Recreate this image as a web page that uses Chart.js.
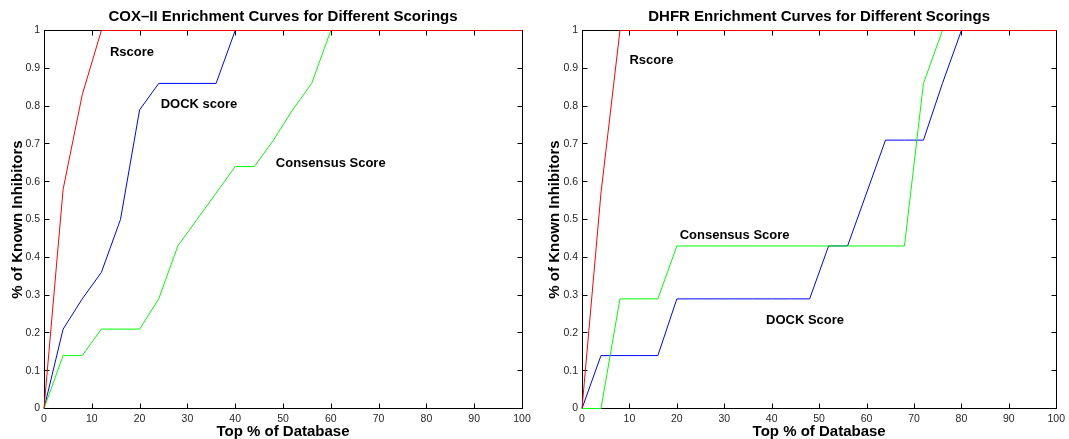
<!DOCTYPE html>
<html>
<head>
<meta charset="utf-8">
<script src="https://cdn.jsdelivr.net/npm/chart.js@4/dist/chart.umd.min.js"></script>
<style>
  body { margin: 0; background: #fff; }
  #wrap { position: relative; width: 1069px; height: 439px; }
  canvas { position: absolute; top: 0; }
</style>
</head>
<body>
<div id="wrap">
  <canvas id="cox" width="535" height="439" style="left:0"></canvas>
  <canvas id="dhfr" width="534" height="439" style="left:535px"></canvas>
</div>
<script>
// top % of database, sampled every 4%
const topPct = [0, 4, 8, 12, 16, 20, 24, 28, 32, 36, 40, 44, 48, 52, 56, 60, 64, 68, 72, 76, 80, 84, 88, 92, 96, 100];

// COX-II
const coxRscore = [0, 0.58, 0.83, 1, 1, 1, 1, 1, 1, 1, 1, 1, 1, 1, 1, 1, 1, 1, 1, 1, 1, 1, 1, 1, 1, 1];
const coxDock = [0, 0.21, 0.29, 0.36, 0.5, 0.79, 0.86, 0.86, 0.86, 0.86, 1, 1, 1, 1, 1, 1, 1, 1, 1, 1, 1, 1, 1, 1, 1, 1];
const coxConsensus = [0, 0.14, 0.14, 0.21, 0.21, 0.21, 0.29, 0.43, 0.5, 0.57, 0.64, 0.64, 0.71, 0.79, 0.86, 1, 1, 1, 1, 1, 1, 1, 1, 1, 1, 1];

// DHFR
const dhfrRscore = [0, 0.57, 1, 1, 1, 1, 1, 1, 1, 1, 1, 1, 1, 1, 1, 1, 1, 1, 1, 1, 1, 1, 1, 1, 1, 1];
const dhfrDock = [0, 0.14, 0.14, 0.14, 0.14, 0.29, 0.29, 0.29, 0.29, 0.29, 0.29, 0.29, 0.29, 0.43, 0.43, 0.57, 0.71, 0.71, 0.71, 0.86, 1, 1, 1, 1, 1, 1];
const dhfrConsensus = [0, 0, 0.29, 0.29, 0.29, 0.43, 0.43, 0.43, 0.43, 0.43, 0.43, 0.43, 0.43, 0.43, 0.43, 0.43, 0.43, 0.43, 0.86, 1, 1, 1, 1, 1, 1, 1];

const xTickStep = 10;
const yTickStep = 0.1;

const FONT = '"Liberation Sans", Arial, Helvetica, sans-serif';

function pts(xs, ys) {
    return xs.map((x, i) => ({ x: x, y: ys[i] }));
}

// box, inward ticks on all four sides, title and curve labels
const matlabAxes = {
    id: 'matlabAxes',
    beforeDatasetsDraw(chart) {
        const { ctx, chartArea: a, scales } = chart;
        const len = 5;
        const L = Math.round(a.left) + 0.5, R = Math.round(a.right) + 0.5;
        const T = Math.floor(a.top) + 0.5, B = Math.floor(a.bottom) + 0.5;
        ctx.save();
        ctx.strokeStyle = '#000';
        ctx.lineWidth = 1;
        ctx.strokeRect(L, T, R - L, B - T);
        ctx.beginPath();
        scales.x.ticks.forEach(t => {
            const px = Math.round(scales.x.getPixelForValue(t.value)) + 0.5;
            ctx.moveTo(px, B); ctx.lineTo(px, B - len);
            ctx.moveTo(px, T); ctx.lineTo(px, T + len);
        });
        scales.y.ticks.forEach(t => {
            const py = Math.floor(scales.y.getPixelForValue(t.value)) + 0.5;
            ctx.moveTo(L, py); ctx.lineTo(L + len, py);
            ctx.moveTo(R, py); ctx.lineTo(R - len, py);
        });
        ctx.stroke();
        ctx.restore();
    },
    afterDraw(chart, args, opts) {
        const { ctx, chartArea: a, scales } = chart;
        ctx.save();
        ctx.fillStyle = '#000';
        ctx.font = 'bold 15px ' + FONT;
        ctx.textAlign = 'center';
        ctx.textBaseline = 'middle';
        ctx.fillText(opts.title, (a.left + a.right) / 2, 17);
        ctx.font = 'bold 13px ' + FONT;
        ctx.textAlign = 'left';
        opts.labels.forEach(l => {
            ctx.fillText(l.text, scales.x.getPixelForValue(l.x), scales.y.getPixelForValue(l.y));
        });
        ctx.restore();
    }
};

function makeChart(id, title, rscore, dock, consensus, labels, yWidth, yTitlePad, padRight) {
    new Chart(document.getElementById(id), {
        type: 'line',
        data: {
            datasets: [
                { label: 'Rscore', data: pts(topPct, rscore), borderColor: '#ff0000' },
                { label: 'Consensus Score', data: pts(topPct, consensus), borderColor: '#00ff00' },
                { label: 'DOCK Score', data: pts(topPct, dock), borderColor: '#0000ff' }
            ]
        },
        options: {
            responsive: false,
            animation: false,
            devicePixelRatio: 1,
            layout: { padding: { top: 30.5, left: 0, right: padRight, bottom: 0 } },
            elements: {
                point: { radius: 0 },
                line: { borderWidth: 1, tension: 0 }
            },
            datasets: { line: { clip: false } },
            scales: {
                x: {
                    type: 'linear', min: 0, max: 100,
                    grid: { display: false, drawTicks: false },
                    border: { display: false },
                    ticks: {
                        stepSize: xTickStep, padding: 4, color: '#262626',
                        font: { family: FONT, size: 10.5 }, maxRotation: 0
                    },
                    title: {
                        display: true, text: 'Top % of Database', color: '#000',
                        font: { family: FONT, size: 15, weight: 'bold', lineHeight: 1 },
                        padding: { top: 0, bottom: 0 }
                    },
                    afterFit(s) { s.height = 30.5; }
                },
                y: {
                    type: 'linear', min: 0, max: 1,
                    grid: { display: false, drawTicks: false },
                    border: { display: false },
                    ticks: {
                        stepSize: yTickStep, padding: 4, color: '#262626',
                        font: { family: FONT, size: 10.5 },
                        callback: v => String(Number(v.toFixed(1)))
                    },
                    title: {
                        display: true, text: '% of Known Inhibitors', color: '#000',
                        font: { family: FONT, size: 15, weight: 'bold', lineHeight: 1 },
                        padding: { top: yTitlePad, bottom: 0 }
                    },
                    afterFit(s) { s.width = yWidth; }
                }
            },
            plugins: {
                legend: { display: false },
                tooltip: { enabled: false },
                matlabAxes: { title: title, labels: labels }
            }
        },
        plugins: [matlabAxes]
    });
}

makeChart('cox', 'COX\u2013II Enrichment Curves for Different Scorings',
    coxRscore, coxDock, coxConsensus,
    [
        { text: 'Rscore', x: 13.8, y: 0.942 },
        { text: 'DOCK score', x: 24.4, y: 0.804 },
        { text: 'Consensus Score', x: 48.5, y: 0.649 }
    ], 44, 10, 13);

makeChart('dhfr', 'DHFR Enrichment Curves for Different Scorings',
    dhfrRscore, dhfrDock, dhfrConsensus,
    [
        { text: 'Rscore', x: 10.0, y: 0.921 },
        { text: 'Consensus Score', x: 20.6, y: 0.459 },
        { text: 'DOCK Score', x: 38.8, y: 0.233 }
    ], 47, 12.5, 9);
</script>
</body>
</html>
